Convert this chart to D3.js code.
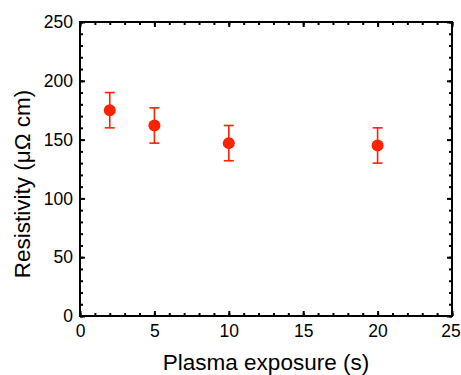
<!DOCTYPE html>
<html>
<head>
<meta charset="utf-8">
<script src="https://cdn.jsdelivr.net/npm/d3@7"></script>
<style>
  body { margin: 0; background: #fff; }
  text { font-family: "Liberation Sans", Arial, sans-serif; fill: #000; }
</style>
</head>
<body>
<div id="chart"></div>
<script>
// values
var exposure = [2, 5, 10, 20];
var resistivity = [175, 162, 147, 145];
var errors = [15, 15, 15, 15];
var xTicks = [0, 5, 10, 15, 20, 25];
var yTicks = [0, 50, 100, 150, 200, 250];

var W = 461, H = 375;
var margin = {top: 22, right: 9, bottom: 59, left: 80},
    width = W - margin.left - margin.right,
    height = H - margin.top - margin.bottom;

var svg = d3.select("#chart").append("svg")
  .attr("width", W)
  .attr("height", H)
  .append("g")
  .attr("transform", `translate(${margin.left},${margin.top})`);

var x = d3.scaleLinear().domain([0, 25]).range([0, width]);
var y = d3.scaleLinear().domain([0, 250]).range([height, 0]);

var red = "#ff2200";

// minor ticks (inward, all four sides)
function ticks(axis, vals, size) {
  return axis.tickValues(vals).tickSize(-size).tickFormat("");
}
var xMinor = d3.range(0, 26, 1), yMinor = d3.range(0, 251, 10);

svg.append("g").attr("transform", `translate(0,${height})`).call(ticks(d3.axisBottom(x), xMinor, 3));
svg.append("g").call(ticks(d3.axisTop(x), xMinor, 3));
svg.append("g").call(ticks(d3.axisLeft(y), yMinor, 3));
svg.append("g").attr("transform", `translate(${width},0)`).call(ticks(d3.axisRight(y), yMinor, 3));

// major ticks + labels
svg.append("g").attr("class", "xaxis")
  .attr("transform", `translate(0,${height})`)
  .call(d3.axisBottom(x).tickValues(xTicks).tickSize(-5).tickPadding(9));
svg.append("g").call(ticks(d3.axisTop(x), xTicks, 5));
svg.append("g").attr("class", "yaxis")
  .call(d3.axisLeft(y).tickValues(yTicks).tickSize(-5).tickPadding(7));
svg.append("g").attr("transform", `translate(${width},0)`).call(ticks(d3.axisRight(y), yTicks, 5));

svg.selectAll(".domain").remove();
svg.selectAll(".tick line").attr("stroke", "#000").attr("stroke-width", 2);
svg.selectAll(".xaxis text, .yaxis text").style("font-size", "17.5px");
svg.selectAll(".xaxis .tick text").attr("dy", "0.71em");
// last x label sits against the window edge, nudge it in a bit
svg.selectAll(".xaxis .tick text").filter(function(d) { return d === 25; }).attr("dx", "-1.5");

// frame
svg.append("rect")
  .attr("width", width).attr("height", height)
  .attr("fill", "none").attr("stroke", "#000").attr("stroke-width", 2);

// error bars
var pts = exposure.map(function(d, i) { return {x: d, y: resistivity[i], e: errors[i]}; });
var eb = svg.append("g").attr("stroke", red).attr("stroke-width", 1.6);
pts.forEach(function(d) {
  var cx = x(d.x);
  eb.append("line").attr("x1", cx).attr("x2", cx).attr("y1", y(d.y + d.e)).attr("y2", y(d.y - d.e));
  eb.append("line").attr("x1", cx - 5).attr("x2", cx + 5).attr("y1", y(d.y + d.e)).attr("y2", y(d.y + d.e));
  eb.append("line").attr("x1", cx - 5).attr("x2", cx + 5).attr("y1", y(d.y - d.e)).attr("y2", y(d.y - d.e));
});

svg.selectAll("circle.pt").data(pts).enter().append("circle")
  .attr("class", "pt")
  .attr("r", 6)
  .attr("fill", red)
  .attr("cx", function(d) { return x(d.x); })
  .attr("cy", function(d) { return y(d.y); });

// axis titles
svg.append("text")
  .attr("x", width / 2).attr("y", height + 54)
  .attr("text-anchor", "middle")
  .style("font-size", "22.5px")
  .text("Plasma exposure (s)");

svg.append("text")
  .attr("transform", `translate(${-50},${162}) rotate(-90)`)
  .attr("text-anchor", "middle")
  .style("font-size", "22.5px")
  .text("Resistivity (μΩ cm)");
</script>
</body>
</html>
